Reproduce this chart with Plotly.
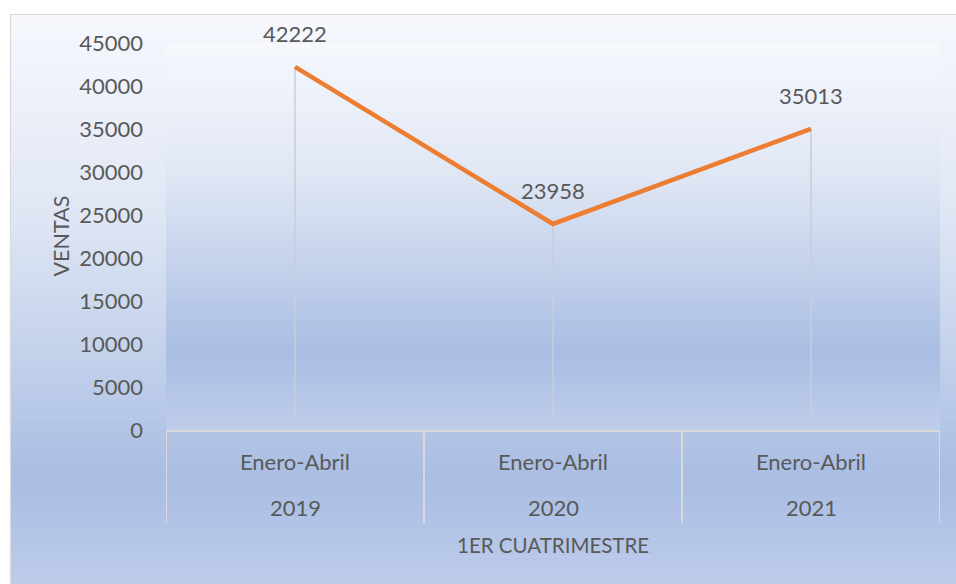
import plotly.graph_objects as go

# ---- data ----
periods = ["Enero-Abril", "Enero-Abril", "Enero-Abril"]
years = ["2019", "2020", "2021"]
ventas = [42222, 23958, 35013]
y_ticks = [0, 5000, 10000, 15000, 20000, 25000, 30000, 35000, 40000, 45000]

FONT = "Lato"
TXT = "#595959"
OFF = 0  # body margin removed via post_script
W, H = 956 - OFF, 584 - OFF
# plot area in window pixels: x 166..940, y 43..430
ML, MR, MT, MB = 166 - OFF, 956 - 940, 43 - OFF, 584 - 430
PW, PH = W - ML - MR, H - MT - MB


def px_x(x):  # window px -> paper
    return (x - OFF - ML) / PW


def px_y(y):
    return (H - MB - (y - OFF)) / PH


def lerp(c1, c2, t):
    return tuple(round(a + (b - a) * t) for a, b in zip(c1, c2))


def hexrgb(h):
    h = h.lstrip("#")
    return tuple(int(h[i:i + 2], 16) for i in (0, 2, 4))


stops = [(0.0, hexrgb("#f6f8fd")), (0.35, hexrgb("#dfe6f4")), (0.8, hexrgb("#a9bde3")), (1.0, hexrgb("#bfcdea"))]


def grad_color(t):
    for (t0, c0), (t1, c1) in zip(stops[:-1], stops[1:]):
        if t0 <= t <= t1:
            return "rgb(%d,%d,%d)" % lerp(c0, c1, (t - t0) / (t1 - t0))
    return "rgb(%d,%d,%d)" % stops[-1][1]


shapes = []


def gradient(x0, x1, y0, y1, n=90):
    h = (y1 - y0) / n
    for i in range(n):
        ya = y0 + i * h
        yb = ya + h + 0.6
        shapes.append(dict(type="rect", xref="paper", yref="paper", layer="below",
                           x0=px_x(x0), x1=px_x(x1), y0=px_y(ya), y1=px_y(yb),
                           line=dict(width=0), fillcolor=grad_color((i + 0.5) / n)))


# outer chart area and plot area gradients
gradient(10, 970, 14, 595)
gradient(166, 940, 43, 430)
shapes.append(dict(type="rect", xref="paper", yref="paper", layer="below",
                   x0=px_x(10.5), x1=px_x(990), y0=px_y(14.5), y1=px_y(600),
                   line=dict(color="#d9d9d9", width=1.2), fillcolor="rgba(0,0,0,0)"))

# category dividers
for b in [-0.5, 0.5, 1.5, 2.5]:
    shapes.append(dict(type="line", xref="x", yref="paper", x0=b, x1=b,
                       y0=0, y1=px_y(523), line=dict(color="#d9d9d9", width=2)))

fig = go.Figure()

# drop lines
dx, dy = [], []
for yr, v in zip(years, ventas):
    dx += [yr, yr, None]
    dy += [v, 0, None]
fig.add_trace(go.Scatter(x=dx, y=dy, mode="lines", line=dict(color="#c9ced7", width=1.5),
                         hoverinfo="skip", showlegend=False))

fig.add_trace(go.Scatter(x=years, y=ventas, mode="lines",
                         line=dict(color="#ED7D31", width=4.5), showlegend=False))

annotations = []
for i, v in enumerate(ventas):
    annotations.append(dict(x=i, y=v, xref="x", yref="y", text=str(v), showarrow=False,
                            yshift=33, font=dict(family=FONT, size=22, color=TXT)))
for i, yr in enumerate(years):
    annotations.append(dict(x=i, y=px_y(508), xref="x", yref="paper", text=yr, showarrow=False,
                            yanchor="middle", font=dict(family=FONT, size=22, color=TXT)))
annotations.append(dict(x=0.5, y=px_y(545), xref="paper", yref="paper", text="1ER CUATRIMESTRE",
                        showarrow=False, yanchor="middle", font=dict(family=FONT, size=20.5, color=TXT)))
annotations.append(dict(x=px_x(60), y=0.5, xref="paper", yref="paper", text="VENTAS", textangle=-90,
                        showarrow=False, xanchor="center", yanchor="middle",
                        font=dict(family=FONT, size=21.5, color=TXT)))

fig.update_layout(
    width=W, height=H,
    margin=dict(l=ML, r=MR, t=MT, b=MB),
    paper_bgcolor="white", plot_bgcolor="rgba(0,0,0,0)",
    font=dict(family=FONT, size=22, color=TXT),
    shapes=shapes, annotations=annotations, showlegend=False,
    xaxis=dict(type="category", categoryorder="array", categoryarray=years,
               range=[-0.5, 2.5], tickmode="array", tickvals=years, ticktext=periods,
               showgrid=False, zeroline=False, showline=True, linecolor="#d9d9d9", linewidth=2,
               ticks="", ticklabelstandoff=12, tickfont=dict(family=FONT, size=22, color=TXT)),
    yaxis=dict(range=[0, 45000], tickmode="array", tickvals=y_ticks,
               ticktext=[str(t) for t in y_ticks],
               showgrid=False, zeroline=False, showline=False, ticks="",
               ticklabelstandoff=22, tickfont=dict(family=FONT, size=22, color=TXT)),
)

fig.write_html("out.html", config={"displayModeBar": False},
               post_script="document.body.style.margin='0';document.body.style.overflow='hidden';")
